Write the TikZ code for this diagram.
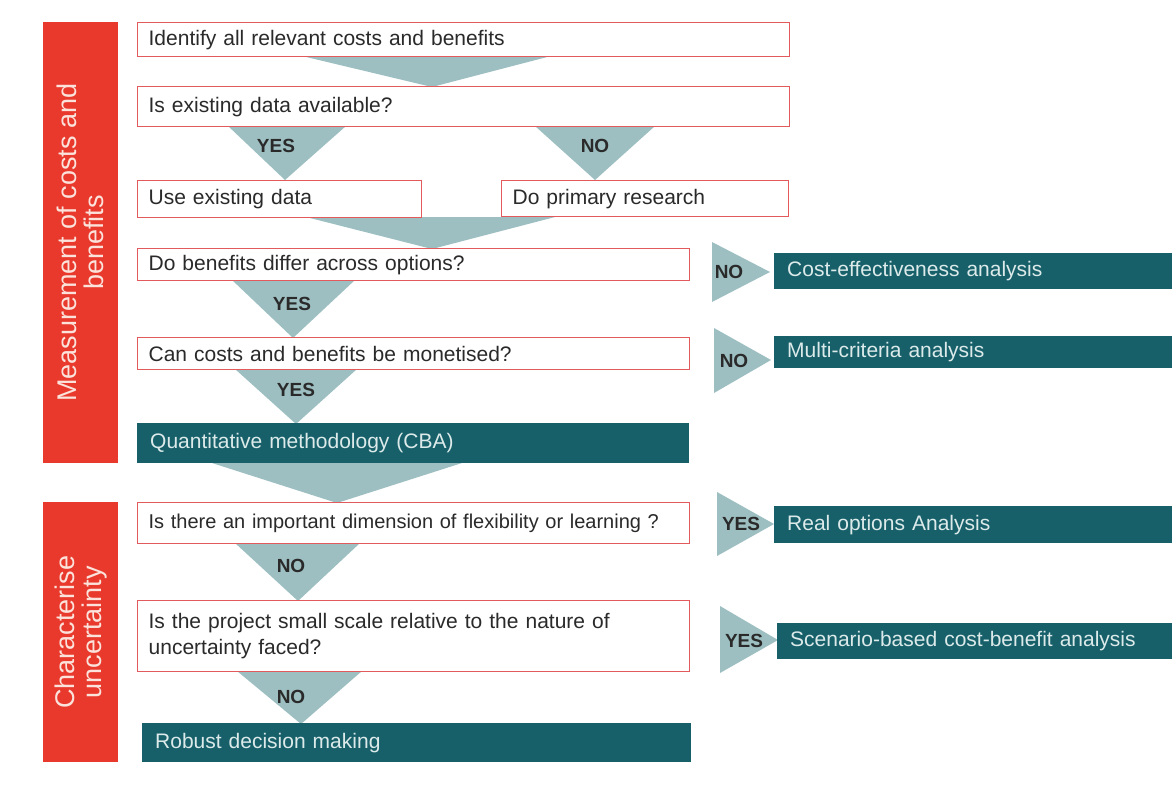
\documentclass[tikz,border=0pt]{standalone}
\usepackage{fontspec}
\setmainfont{Liberation Sans}
\definecolor{boxred}{HTML}{E25A5C}
\definecolor{barred}{HTML}{E9392D}
\definecolor{teal}{HTML}{17606A}
\definecolor{tri}{HTML}{9DBFC1}
\definecolor{txt}{HTML}{2A2A2A}
\definecolor{lighttxt}{HTML}{DCEAEA}
\definecolor{bartxt}{HTML}{FBE3DC}
\begin{document}
\begin{tikzpicture}[x=1pt,y=-1pt,
  box/.style={draw=boxred, line width=1.3pt, fill=white, anchor=north west, inner xsep=11pt, inner ysep=0pt, align=left, text=txt, font=\fontsize{21}{26}\selectfont},
  dbox/.style={fill=teal, anchor=north west, inner xsep=13pt, inner ysep=0pt, align=left, text=lighttxt, font=\fontsize{21}{26}\selectfont},
  bar/.style={fill=barred, anchor=north west, inner sep=0pt},
  bartext/.style={rotate=90, align=center, text=bartxt, font=\fontsize{27}{27}\selectfont},
  trishape/.style={fill=tri},
  lab/.style={font=\fontsize{19}{22}\selectfont\bfseries, text=txt, inner sep=0pt}
]
\fill[white] (0,0) rectangle (1172,800);
\useasboundingbox (0,0) rectangle (1172,800);

% red side bars
\node[bar, minimum width=75, minimum height=441] (bar1) at (43,22) {};
\node[bartext] (bt1) at (bar1.center) {Measurement of costs and\\benefits};
\node[bar, minimum width=75, minimum height=260] (bar2) at (43,502) {};
\node[bartext] (bt2) at (bar2.center) {Characterise\\uncertainty};

% triangles (drawn first, boxes on top)
\fill[trishape] (302,56) -- (551,56) -- (432,87) -- cycle;
\fill[trishape] (228,126) -- (346,126) -- (285,180) -- cycle;
\fill[trishape] (535,126) -- (655,126) -- (595,180) -- cycle;
\fill[trishape] (306,217) -- (555,217) -- (432,249) -- cycle;
\fill[trishape] (232,280) -- (355,280) -- (293,338) -- cycle;
\fill[trishape] (235,369) -- (357,369) -- (296,424) -- cycle;
\fill[trishape] (212,463) -- (462,463) -- (337,503) -- cycle;
\fill[trishape] (235,543) -- (360,543) -- (298,601) -- cycle;
\fill[trishape] (237,671) -- (362,671) -- (301,724) -- cycle;
% right-pointing triangles
\fill[trishape] (712,242) -- (712,302) -- (770,272) -- cycle;
\fill[trishape] (714,328) -- (714,393) -- (771,360) -- cycle;
\fill[trishape] (717,492) -- (717,556) -- (774,524) -- cycle;
\fill[trishape] (720,606) -- (720,673) -- (778,640) -- cycle;

% main column boxes
\node[box, text width=630, minimum height=34] (b1) at (137,22) {Identify all relevant costs and benefits};
\node[box, text width=630, minimum height=40] (b2) at (137,86) {Is existing data available?};
\node[box, text width=262, minimum height=37] (b3) at (137,180) {Use existing data};
\node[box, text width=265, minimum height=36] (b4) at (501,180) {Do primary research};
\node[box, text width=530, minimum height=32] (b5) at (137,248) {Do benefits differ across options?};
\node[box, text width=530, minimum height=32] (b6) at (137,337) {Can costs and benefits be monetised?};
\node[dbox, text width=526, minimum height=40] (q) at (137,423) {Quantitative methodology (CBA)};
\node[box, text width=530, minimum height=41, font=\fontsize{20}{24}\selectfont] (b7) at (137,502) {Is there an important dimension of flexibility or learning ?};
\node[box, text width=530, minimum height=71] (b8) at (137,600) {Is the project small scale relative to the nature of\\uncertainty faced?};
\node[dbox, text width=523, minimum height=39] (r) at (142,723) {Robust decision making};

% right column outcomes
\node[dbox, text width=372, minimum height=36] (c1) at (774,253) {Cost-effectiveness analysis};
\node[dbox, text width=372, minimum height=32] (c2) at (774,336) {Multi-criteria analysis};
\node[dbox, text width=372, minimum height=37] (c3) at (774,506) {Real options Analysis};
\node[dbox, text width=369, minimum height=36] (c4) at (777,623) {Scenario-based cost-benefit analysis};

% labels
\node[lab] (y1) at (276,146) {YES};
\node[lab] (n1) at (595,146) {NO};
\node[lab] (y2) at (292,304) {YES};
\node[lab] (y3) at (296,390) {YES};
\node[lab] (n2) at (291,566) {NO};
\node[lab] (n3) at (291,697) {NO};
\node[lab] (n4) at (729,272) {NO};
\node[lab] (n5) at (734,361) {NO};
\node[lab] (y4) at (741,524) {YES};
\node[lab] (y5) at (744,641) {YES};
\end{tikzpicture}
\end{document}
